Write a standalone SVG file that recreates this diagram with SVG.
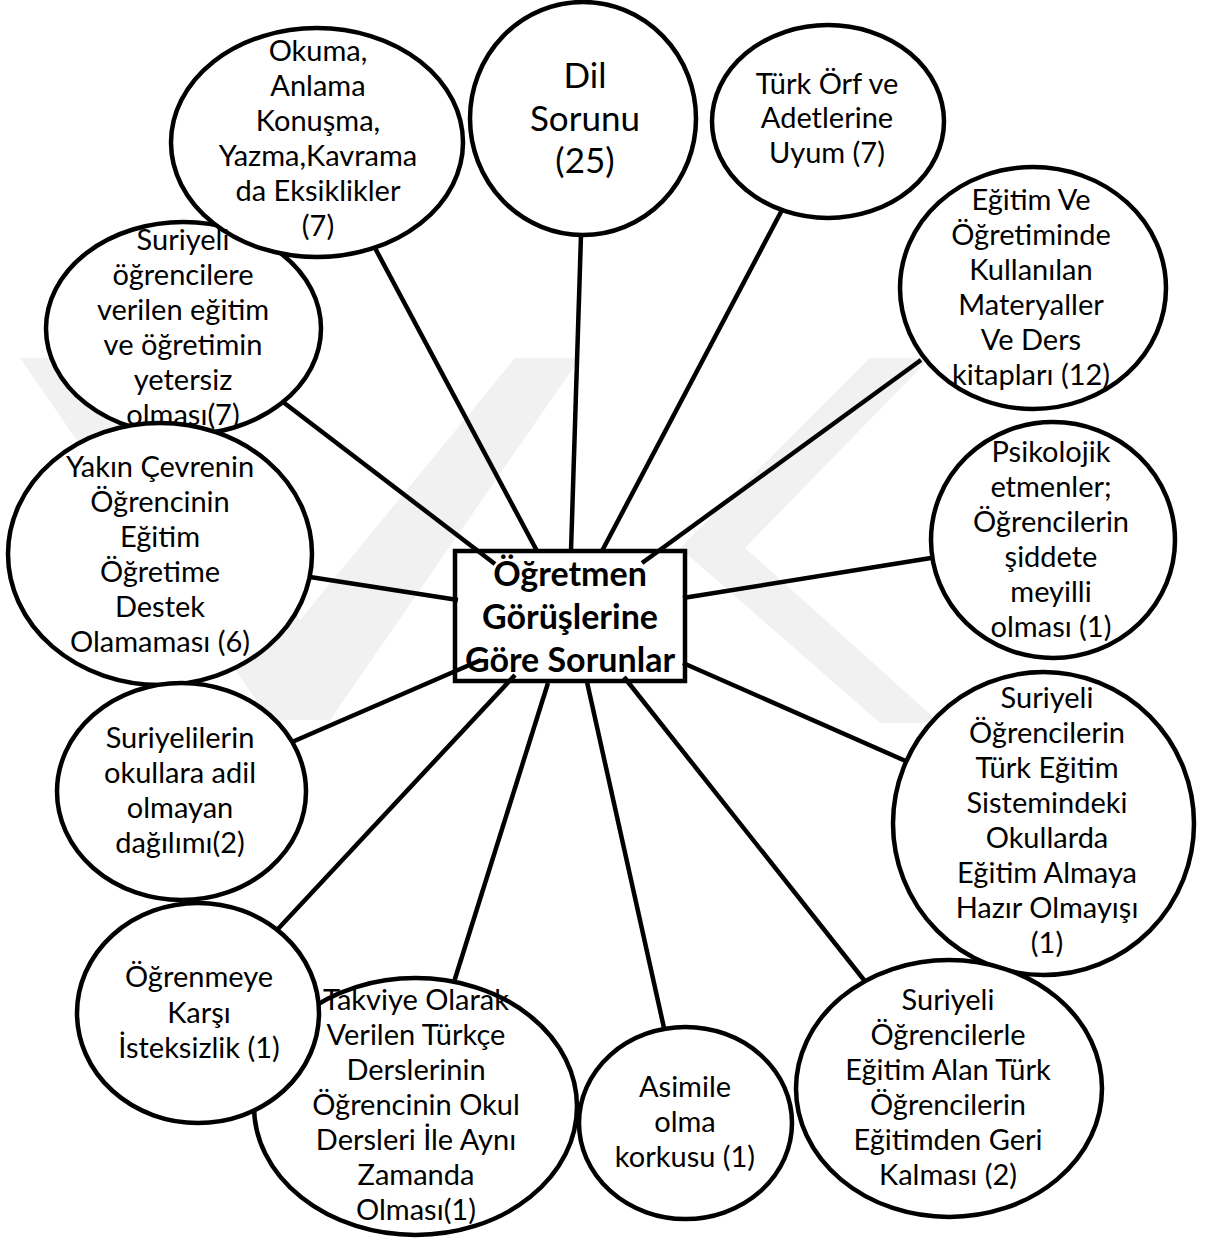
<svg xmlns="http://www.w3.org/2000/svg" width="1208" height="1238" viewBox="0 0 1208 1238">
<style>
.wm{fill:#f1f1f1;stroke:none}
.node{fill:#ffffff;stroke:#000000;stroke-width:4.5}
.box{fill:#ffffff;stroke:#000000;stroke-width:4.5}
.conn line{stroke:#000000;stroke-width:4.5;stroke-linecap:butt}
.t{font-family:Lato,"Open Sans","Liberation Sans",sans-serif;font-size:29px;fill:#000000;text-anchor:middle}
.big{font-size:35px}
.ctr{font-family:Lato,"Open Sans","Liberation Sans",sans-serif;font-size:34px;font-weight:bold;fill:#000000;text-anchor:middle}
</style>
<rect width="1208" height="1238" fill="#ffffff"/>
<g id="watermark">
<polygon class="wm" points="20,358 85,358 300,620 515,358 580,358 330,720 270,720"/>
<polygon class="wm" points="870,358 930,358 745,548 940,723 880,723 680,548"/>
</g>
<rect id="center-box" class="box" x="455" y="551" width="230" height="130"/>
<g id="connectors" class="conn">
<line x1="375" y1="248" x2="537" y2="551"/>
<line x1="581" y1="235" x2="571" y2="551"/>
<line x1="782" y1="210" x2="602" y2="551"/>
<line x1="921" y1="360" x2="642" y2="563"/>
<line x1="283" y1="402" x2="495" y2="564"/>
<line x1="310" y1="577" x2="458" y2="600"/>
<line x1="931" y1="558" x2="683" y2="598"/>
<line x1="292" y1="742" x2="481" y2="660"/>
<line x1="683" y1="663" x2="908" y2="762"/>
<line x1="515" y1="675" x2="277" y2="930"/>
<line x1="548" y1="683" x2="454" y2="982"/>
<line x1="587" y1="682" x2="664" y2="1028"/>
<line x1="624" y1="677" x2="864" y2="980"/>
</g>
<g id="node-suriyeli-egitim">
<ellipse class="node" cx="183.5" cy="328.5" rx="137.5" ry="106.5"/>
</g>
<g id="node-okuma">
<ellipse class="node" cx="317" cy="142.5" rx="146" ry="114.5"/>
<text class="t" x="318" y="61">Okuma,</text>
<text class="t" x="318" y="96">Anlama</text>
<text class="t" x="318" y="131">Konuşma,</text>
<text class="t" x="318" y="166">Yazma,Kavrama</text>
<text class="t" x="318" y="201">da Eksiklikler</text>
<text class="t" x="318" y="236">(7)</text>
</g>
<g id="node-suriyeli-egitim-text">
<text class="t" x="183" y="250">Suriyeli</text>
<text class="t" x="183" y="285">öğrencilere</text>
<text class="t" x="183" y="320">verilen eğitim</text>
<text class="t" x="183" y="355">ve öğretimin</text>
<text class="t" x="183" y="390">yetersiz</text>
<text class="t" x="183" y="425">olması(7)</text>
</g>
<g id="node-dil">
<ellipse class="node" cx="583" cy="118.5" rx="113" ry="116.5"/>
<text class="t big" x="585" y="88">Dil</text>
<text class="t big" x="585" y="131">Sorunu</text>
<text class="t big" x="585" y="173">(25)</text>
</g>
<g id="node-turk-orf">
<ellipse class="node" cx="828" cy="121.5" rx="116" ry="96.5"/>
<text class="t" x="827" y="94">Türk Örf ve</text>
<text class="t" x="827" y="128">Adetlerine</text>
<text class="t" x="827" y="163">Uyum (7)</text>
</g>
<g id="node-materyaller">
<ellipse class="node" cx="1033" cy="288" rx="133" ry="121"/>
<text class="t" x="1031" y="210">Eğitim Ve</text>
<text class="t" x="1031" y="245">Öğretiminde</text>
<text class="t" x="1031" y="280">Kullanılan</text>
<text class="t" x="1031" y="315">Materyaller</text>
<text class="t" x="1031" y="350">Ve Ders</text>
<text class="t" x="1031" y="385">kitapları (12)</text>
</g>
<g id="node-yakin-cevre">
<ellipse class="node" cx="160" cy="554" rx="152" ry="131"/>
<text class="t" x="160" y="477">Yakın Çevrenin</text>
<text class="t" x="160" y="512">Öğrencinin</text>
<text class="t" x="160" y="547">Eğitim</text>
<text class="t" x="160" y="582">Öğretime</text>
<text class="t" x="160" y="617">Destek</text>
<text class="t" x="160" y="652">Olamaması (6)</text>
</g>
<g id="node-psikolojik">
<ellipse class="node" cx="1053" cy="540" rx="122" ry="118"/>
<text class="t" x="1051" y="462">Psikolojik</text>
<text class="t" x="1051" y="497">etmenler;</text>
<text class="t" x="1051" y="532">Öğrencilerin</text>
<text class="t" x="1051" y="567">şiddete</text>
<text class="t" x="1051" y="602">meyilli</text>
<text class="t" x="1051" y="637">olması (1)</text>
</g>
<g id="node-dagilim">
<ellipse class="node" cx="181.5" cy="791.5" rx="124.5" ry="108.5"/>
<text class="t" x="180" y="748">Suriyelilerin</text>
<text class="t" x="180" y="783">okullara adil</text>
<text class="t" x="180" y="818">olmayan</text>
<text class="t" x="180" y="853">dağılımı(2)</text>
</g>
<g id="node-hazir-olmayis">
<ellipse class="node" cx="1043.5" cy="823.5" rx="150.5" ry="151.5"/>
<text class="t" x="1047" y="708">Suriyeli</text>
<text class="t" x="1047" y="743">Öğrencilerin</text>
<text class="t" x="1047" y="778">Türk Eğitim</text>
<text class="t" x="1047" y="813">Sistemindeki</text>
<text class="t" x="1047" y="848">Okullarda</text>
<text class="t" x="1047" y="883">Eğitim Almaya</text>
<text class="t" x="1047" y="918">Hazır Olmayışı</text>
<text class="t" x="1047" y="953">(1)</text>
</g>
<g id="node-takviye">
<ellipse class="node" cx="415.5" cy="1106.5" rx="161.5" ry="128.5"/>
</g>
<g id="node-ogrenmeye">
<ellipse class="node" cx="198" cy="1013" rx="121" ry="110"/>
<text class="t" x="199" y="987">Öğrenmeye</text>
<text class="t" x="199" y="1023">Karşı</text>
<text class="t" x="199" y="1058">İsteksizlik (1)</text>
</g>
<g id="node-takviye-text">
<text class="t" x="416" y="1010">Takviye Olarak</text>
<text class="t" x="416" y="1045">Verilen Türkçe</text>
<text class="t" x="416" y="1080">Derslerinin</text>
<text class="t" x="416" y="1115">Öğrencinin Okul</text>
<text class="t" x="416" y="1150">Dersleri İle Aynı</text>
<text class="t" x="416" y="1185">Zamanda</text>
<text class="t" x="416" y="1220">Olması(1)</text>
</g>
<g id="node-asimile">
<ellipse class="node" cx="685.5" cy="1123" rx="106.5" ry="96"/>
<text class="t" x="685" y="1097">Asimile</text>
<text class="t" x="685" y="1132">olma</text>
<text class="t" x="685" y="1167">korkusu (1)</text>
</g>
<g id="node-geri-kalma">
<ellipse class="node" cx="949" cy="1088.5" rx="153" ry="128.5"/>
<text class="t" x="948" y="1010">Suriyeli</text>
<text class="t" x="948" y="1045">Öğrencilerle</text>
<text class="t" x="948" y="1080">Eğitim Alan Türk</text>
<text class="t" x="948" y="1115">Öğrencilerin</text>
<text class="t" x="948" y="1150">Eğitimden Geri</text>
<text class="t" x="948" y="1185">Kalması (2)</text>
</g>
<g id="center-text">
<text class="ctr" x="570" y="586">Öğretmen</text>
<text class="ctr" x="570" y="629">Görüşlerine</text>
<text class="ctr" x="570" y="672">Göre Sorunlar</text>
</g>
</svg>
